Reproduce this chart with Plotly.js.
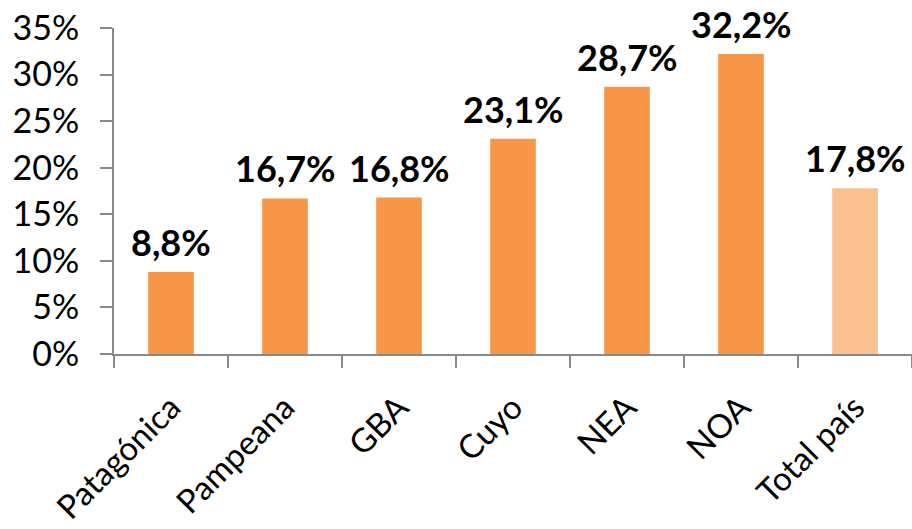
<!DOCTYPE html>
<html>
<head>
<meta charset="utf-8">
<script src="https://cdn.plot.ly/plotly-3.0.1.min.js"></script>
<style>
  html, body { margin: 0; padding: 0; background: #fff; }
  #chart { width: 912px; height: 529px; }
</style>
</head>
<body>
<div id="chart"></div>
<script>
var regiones = ['Patagónica', 'Pampeana', 'GBA', 'Cuyo', 'NEA', 'NOA', 'Total país'];
var valores = [8.8, 16.7, 16.8, 23.1, 28.7, 32.2, 17.8];
var colores = ['#F79646', '#F79646', '#F79646', '#F79646', '#F79646', '#F79646', '#FAC090'];
var yTicks = [0, 5, 10, 15, 20, 25, 30, 35];
var yTickText = ['0%', '5%', '10%', '15%', '20%', '25%', '30%', '35%'];

var fuente = 'Lato, "Open Sans", sans-serif';
var gris = '#898989';

var etiquetas = valores.map(function (v) {
  return v.toFixed(1).replace('.', ',') + '%';
});

var traza = {
  type: 'bar',
  x: regiones,
  y: valores,
  marker: { color: colores, line: { width: 0 } },
  hoverinfo: 'skip'
};

var notas = [];
for (var i = 0; i < regiones.length; i++) {
  notas.push({
    x: regiones[i],
    y: valores[i],
    text: etiquetas[i],
    showarrow: false,
    yanchor: 'bottom',
    yshift: 7,
    borderpad: 0,
    font: { family: fuente, size: 36, color: '#000', weight: 'bold' }
  });
}

var layout = {
  width: 912,
  height: 529,
  margin: { l: 114, r: 0, t: 28, b: 175 },
  paper_bgcolor: '#fff',
  plot_bgcolor: '#fff',
  showlegend: false,
  bargap: 0.6,
  xaxis: {
    type: 'category',
    tickson: 'boundaries',
    ticks: 'outside',
    ticklen: 12,
    tickwidth: 2,
    tickcolor: gris,
    showline: true,
    linecolor: gris,
    linewidth: 2,
    showgrid: false,
    zeroline: false,
    tickangle: -45,
    ticklabelstandoff: 19,
    tickfont: { family: fuente, size: 33, color: '#000' }
  },
  yaxis: {
    range: [0, 35],
    tickvals: yTicks,
    ticktext: yTickText,
    ticks: 'outside',
    ticklen: 12,
    tickwidth: 2,
    tickcolor: gris,
    showline: true,
    linecolor: gris,
    linewidth: 2,
    showgrid: false,
    zeroline: false,
    ticklabelstandoff: 14,
    tickfont: { family: fuente, size: 34, color: '#000' }
  },
  annotations: notas
};

Plotly.newPlot('chart', [traza], layout, { displayModeBar: false, staticPlot: true });
</script>
</body>
</html>
